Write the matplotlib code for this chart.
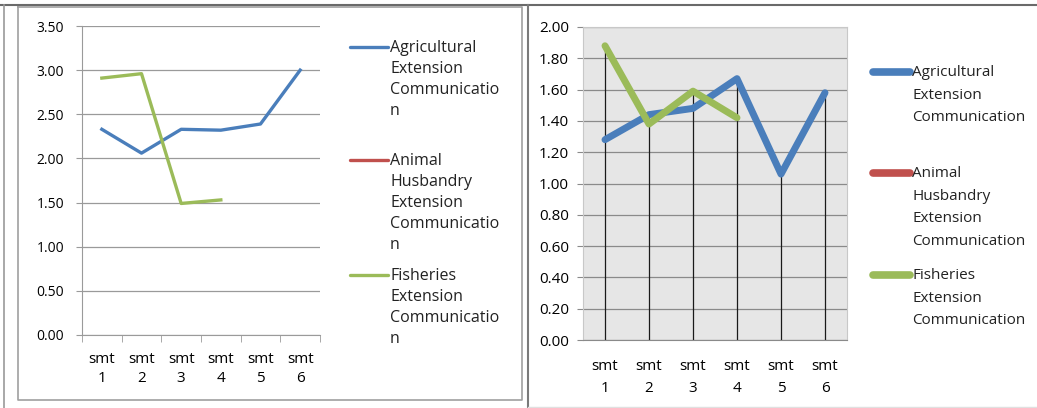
import matplotlib.pyplot as plt
import numpy as np
from matplotlib.lines import Line2D

plt.rcParams['font.family'] = ['Open Sans', 'DejaVu Sans']

semesters = ["smt\n1", "smt\n2", "smt\n3", "smt\n4", "smt\n5", "smt\n6"]

# left chart values
agri_left = [2.33, 2.06, 2.33, 2.32, 2.39, 3.00]
animal_left = [np.nan] * 6
fish_left = [2.91, 2.96, 1.49, 1.53, np.nan, np.nan]

# right chart values
agri_right = [1.28, 1.44, 1.48, 1.67, 1.06, 1.58]
animal_right = [np.nan] * 6
fish_right = [1.88, 1.38, 1.59, 1.42, np.nan, np.nan]

left_labels = ["Agricultural\nExtension\nCommunicatio\nn",
               "Animal\nHusbandry\nExtension\nCommunicatio\nn",
               "Fisheries\nExtension\nCommunicatio\nn"]
right_labels = ["Agricultural\nExtension\nCommunication",
                "Animal\nHusbandry\nExtension\nCommunication",
                "Fisheries\nExtension\nCommunication"]

BLUE = "#4a7ebb"
RED = "#c0504d"
GREEN = "#9bbb59"
colors = [BLUE, RED, GREEN]

W, H = 1037, 408
fig = plt.figure(figsize=(W / 100, H / 100), dpi=100)


def px_axes(x0, y0, x1, y1):
    return fig.add_axes([x0 / W, 1 - y1 / H, (x1 - x0) / W, (y1 - y0) / H])


def fig_line(xs, ys, **kw):
    fig.add_artist(Line2D([x / W for x in xs], [1 - y / H for y in ys],
                          transform=fig.transFigure, **kw))


def legend(x0, x1, ys, labels, lw, fs, ls):
    for y, lab, c in zip(ys, labels, colors):
        fig_line([x0, x1], [y, y], color=c, lw=lw, solid_capstyle='round')
        fig.text((x1 + 2) / W, 1 - (y - 7) / H, lab, fontsize=fs,
                 color="#222222", va='top', ha='left', linespacing=ls)


x = np.arange(len(semesters))

# ---- left chart ----
ax1 = px_axes(82, 26, 320, 335)
for vals, c in zip([agri_left, animal_left, fish_left], colors):
    ax1.plot(x, vals, color=c, lw=2.4)
ax1.set_xlim(-0.5, 5.5)
ax1.set_ylim(0, 3.5)
yt1 = np.arange(0, 3.51, 0.5)
ax1.set_yticks(yt1)
ax1.set_yticklabels([f"{v:.2f}" for v in yt1])
ax1.set_xticks(x)
ax1.set_xticklabels(semesters, linespacing=1.4)
ax1.set_xticks(np.arange(-0.5, 6, 1), minor=True)
ax1.tick_params(axis='x', which='major', length=0, pad=12, labelsize=11)
ax1.tick_params(axis='x', which='minor', length=5, color="#9a9a9a")
ax1.tick_params(axis='y', length=4, color="#9a9a9a", labelsize=10, pad=9)
ax1.yaxis.grid(True, color="#9a9a9a", lw=0.9)
ax1.set_axisbelow(True)
for s in ['top', 'right']:
    ax1.spines[s].set_visible(False)
for s in ['left', 'bottom']:
    ax1.spines[s].set_color("#9a9a9a")
legend(350, 388, [47, 160, 275], left_labels, 2.4, 11.5, 1.42)

# ---- right chart ----
ax2 = px_axes(583, 27, 847, 340)
ax2.set_facecolor("#e6e6e6")
tops = np.nanmax(np.vstack([agri_right, fish_right]), axis=0)
ax2.vlines(x, 0, tops, color="#1a1a1a", lw=0.9, zorder=2)
for vals, c in zip([agri_right, animal_right, fish_right], colors):
    ax2.plot(x, vals, color=c, lw=5, solid_capstyle='round', zorder=3)
ax2.set_xlim(-0.5, 5.5)
ax2.set_ylim(0, 2.0)
yt2 = np.arange(0, 2.01, 0.2)
ax2.set_yticks(yt2)
ax2.set_yticklabels([f"{v:.2f}" for v in yt2])
ax2.set_xticks(x)
ax2.set_xticklabels(semesters, linespacing=1.6)
ax2.tick_params(axis='x', length=0, pad=14, labelsize=11)
ax2.tick_params(axis='y', length=4, color="#8a8a8a", labelsize=11, pad=6)
ax2.yaxis.grid(True, color="#8a8a8a", lw=0.9)
ax2.set_axisbelow(True)
for s in ['top', 'right', 'left']:
    ax2.spines[s].set_color("#c8c8c8")
ax2.spines['bottom'].set_color("#8a8a8a")
legend(873, 910, [72, 173, 275], right_labels, 5.5, 11, 1.7)

# ---- panel frames ----
fig_line([0, W], [5, 5], color="#6a6a6a", lw=1.5)
fig_line([4, 4], [5, H], color="#9a9a9a", lw=1.2)
fig_line([18, 522, 522, 18, 18], [7, 7, 400, 400, 7], color="#a0a0a0", lw=1.2)
fig_line([528, 528], [5, H], color="#7a7a7a", lw=1.5)
fig_line([528, W], [407, 407], color="#e0e0e0", lw=1.0)

fig.savefig("out.png", dpi=100)
